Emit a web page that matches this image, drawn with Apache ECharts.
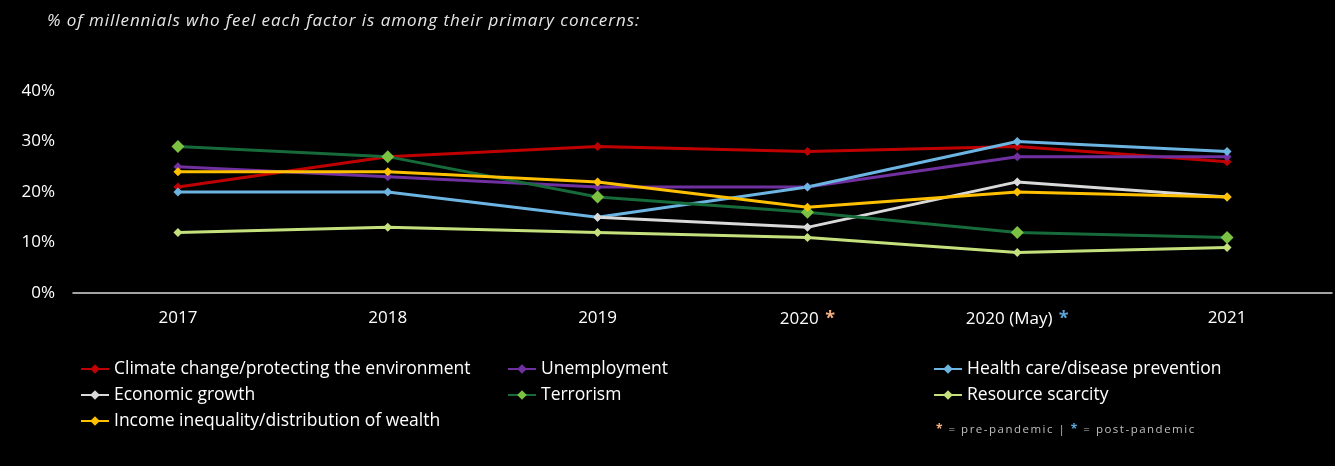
<!DOCTYPE html>
<html>
<head>
<meta charset="utf-8">
<script src="https://cdn.jsdelivr.net/npm/echarts@6/dist/echarts.min.js"></script>
<style>
html,body{margin:0;padding:0;background:#000;}
#c{width:1335px;height:466px;}
</style>
</head>
<body>
<div id="c"></div>
<script>
const categories = ['2017', '2018', '2019', '2020', '2020 (May)', '2021'];
const yTicks = [0, 10, 20, 30, 40];
const climate = [21, 27, 29, 28, 29, 26];
const unemployment = [25, 23, 21, 21, 27, 27];
const health = [20, 20, 15, 21, 30, 28];
const economic = [null, null, 15, 13, 22, 19];
const terrorism = [29, 27, 19, 16, 12, 11];
const resource = [12, 13, 12, 11, 8, 9];
const income = [24, 24, 22, 17, 20, 19];
const titleText = '% of millennials who feel each factor is among their primary concerns:';

const FONT = '"Open Sans", "Noto Sans", sans-serif';

// spaced text: each character as its own rich token with right padding
function spaced(str, style) {
  return str.split('').map(ch => '{' + style + '|' + ch + '}').join('');
}

function mk(name, data, color, symColor, symSize) {
  return {
    name: name, type: 'line', data: data,
    symbol: 'diamond', symbolSize: symSize || 9,
    showAllSymbol: true,
    connectNulls: false,
    lineStyle: { color: color, width: 3 },
    itemStyle: { color: symColor || color, borderWidth: 0 },
    emphasis: { disabled: true },
    animation: false
  };
}

const series = [
  mk('Climate change/protecting the environment', climate, '#C00000'),
  mk('Unemployment', unemployment, '#7030A0'),
  mk('Health care/disease prevention', health, '#6CB4E2'),
  mk('Economic growth', economic, '#D9D9D9'),
  mk('Terrorism', terrorism, '#176B3A', '#7CC242', 13),
  mk('Resource scarcity', resource, '#C4E17E'),
  mk('Income inequality/distribution of wealth', income, '#FFC000')
];

const legendBase = {
  orient: 'vertical', itemGap: 8, itemWidth: 28, itemHeight: 12,
  textStyle: { color: '#ffffff', fontSize: 17.5, fontFamily: FONT, lineHeight: 18 },
  selectedMode: false
};

const footText = '{o|*}' + spaced(' = pre-pandemic | ', 'f') + '{b|*}' + spaced(' = post-pandemic', 'f');

const chart = echarts.init(document.getElementById('c'));
chart.setOption({
  backgroundColor: '#000000',
  animation: false,
  grid: { left: 73, right: 3, top: 91, bottom: 466 - 293, containLabel: false },
  xAxis: {
    type: 'category', data: categories, boundaryGap: true,
    axisLine: { show: true, lineStyle: { color: '#d9d9d9', width: 1.5 } },
    axisTick: { show: false },
    axisLabel: {
      color: '#ffffff', fontSize: 17, fontFamily: FONT, margin: 17,
      formatter: function (v) {
        if (v === '2020') return v + ' {o|*}';
        if (v === '2020 (May)') return v + ' {b|*}';
        return v;
      },
      rich: {
        o: { color: '#F4B183', fontSize: 18, fontWeight: 'bold', fontFamily: FONT, verticalAlign: 'top', padding: [0, 0, 0, 2] },
        b: { color: '#5FA8DC', fontSize: 18, fontWeight: 'bold', fontFamily: FONT, verticalAlign: 'top', padding: [0, 0, 0, 2] }
      }
    }
  },
  yAxis: {
    type: 'value', min: yTicks[0], max: yTicks[yTicks.length - 1], interval: 10,
    axisLine: { show: false }, axisTick: { show: false },
    splitLine: { show: false },
    axisLabel: { color: '#ffffff', fontSize: 17, fontFamily: FONT, margin: 18, formatter: '{value}%' }
  },
  legend: [
    Object.assign({}, legendBase, { left: 75, top: 355, data: ['Climate change/protecting the environment', 'Economic growth', 'Income inequality/distribution of wealth'] }),
    Object.assign({}, legendBase, { left: 502, top: 355, data: ['Unemployment', 'Terrorism'] }),
    Object.assign({}, legendBase, { left: 928, top: 355, data: ['Health care/disease prevention', 'Resource scarcity'] })
  ],
  graphic: [
    {
      type: 'text', left: 47, top: 13,
      style: {
        text: spaced(titleText, 't'),
        rich: {
          t: { fill: '#e6e6e6', font: 'italic 17px ' + FONT, padding: [0, 0.95, 0, 0] }
        }
      }
    },
    {
      type: 'text', left: 936, top: 424,
      style: {
        text: footText,
        rich: {
          f: { fill: '#bfbfbf', font: '11.5px ' + FONT, padding: [0, 1.5, 0, 0] },
          o: { fill: '#F4B183', font: 'bold 12px ' + FONT, padding: [0, 1.5, 0, 0] },
          b: { fill: '#5FA8DC', font: 'bold 12px ' + FONT, padding: [0, 1.5, 0, 0] }
        }
      }
    }
  ],
  series: series
});
</script>
</body>
</html>
